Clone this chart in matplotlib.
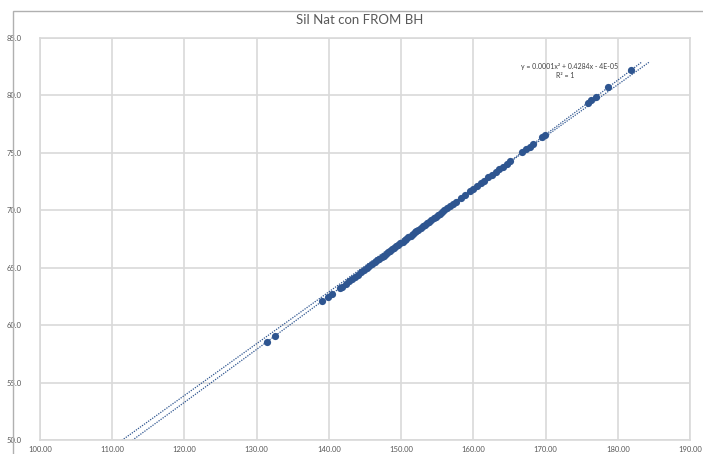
import numpy as np
import matplotlib
matplotlib.use("Agg")
import matplotlib.pyplot as plt
from matplotlib.patches import Rectangle

# Measured values
x_vals = [131.4, 132.6, 139.0, 139.9, 140.4, 141.5, 141.8, 142.3, 142.8, 143.2,
          143.6, 144.0, 144.5, 144.9, 145.3, 145.6, 146.0, 146.4, 146.7, 147.0,
          147.3, 147.6, 147.9, 148.2, 148.5, 148.8, 149.0, 149.3, 149.6, 149.9,
          150.2, 150.5, 150.7, 151.0, 151.3, 151.6, 151.9, 152.1, 152.4, 152.7,
          153.0, 153.3, 153.6, 153.9, 154.2, 154.5, 154.8, 155.1, 155.4, 155.7,
          156.0, 156.4, 156.8, 157.2, 157.6, 158.3, 158.9, 159.5, 160.0, 160.5,
          161.0, 161.5, 162.1, 162.6, 163.1, 163.6, 164.1, 164.6, 165.1, 166.8,
          167.3, 167.8, 168.2, 169.5, 169.9, 175.9, 176.3, 177.0, 178.7, 181.9]
y_vals = [58.54, 59.09, 62.06, 62.48, 62.71, 63.22, 63.36, 63.59, 63.83, 64.01,
          64.20, 64.39, 64.62, 64.80, 64.99, 65.13, 65.32, 65.50, 65.64, 65.78,
          65.92, 66.06, 66.20, 66.34, 66.48, 66.62, 66.72, 66.86, 67.00, 67.14,
          67.28, 67.42, 67.51, 67.65, 67.79, 67.93, 68.07, 68.17, 68.31, 68.45,
          68.59, 68.73, 68.87, 69.01, 69.15, 69.29, 69.43, 69.57, 69.71, 69.85,
          69.99, 70.18, 70.37, 70.56, 70.74, 71.07, 71.36, 71.64, 71.87, 72.11,
          72.34, 72.58, 72.86, 73.10, 73.33, 73.57, 73.80, 74.04, 74.27, 75.07,
          75.31, 75.55, 75.73, 76.35, 76.54, 79.38, 79.57, 79.90, 80.71, 82.23]

# Second (linear) trend: slope, intercept
line_coef = [0.451, -0.24]

x_ticks = [100, 110, 120, 130, 140, 150, 160, 170, 180, 190]
y_ticks = [50, 55, 60, 65, 70, 75, 80, 85]

title = "Sil Nat con FROM BH"
eq_text = "y = 0.0001x² + 0.4284x - 4E-05"
r2_text = "R² = 1"

blue = "#2E5590"
grid_c = "#D9D9D9"
text_c = "#595959"
font = ["Lato", "DejaVu Sans"]

fig = plt.figure(figsize=(7.03, 4.54), dpi=100)
fig.patch.set_facecolor("white")

# chart-area frame
fig.patches.append(Rectangle((13 / 703, -0.05), 1.0, 1 - 11 / 454 + 0.05,
                             transform=fig.transFigure, fill=False,
                             edgecolor="#B0B0B0", linewidth=1.0))

ax = fig.add_axes([40 / 703, 1 - 440 / 454, 650 / 703, 402 / 454])
ax.set_xlim(100, 190)
ax.set_ylim(50, 85)
ax.set_xticks(x_ticks)
ax.set_yticks(y_ticks)
ax.set_xticklabels([f"{v:.2f}" for v in x_ticks], fontsize=5.5, color=text_c, family=font)
ax.set_yticklabels([f"{v:.1f}" for v in y_ticks], fontsize=5.5, color=text_c, family=font)
ax.tick_params(length=0, pad=4)
for lab in ax.get_yticklabels():
    lab.set_horizontalalignment("left")
ax.tick_params(axis="y", pad=24)
ax.grid(True, color=grid_c, linewidth=1.2)
for s in ax.spines.values():
    s.set_color(grid_c)
    s.set_linewidth(1.2)
ax.set_axisbelow(True)

# quadratic trend of the data, plus the linear trend
xs = np.array(x_vals)
ys = np.array(y_vals)
quad = np.polyfit(xs, ys, 2)
xq = np.linspace(108, 183.3, 300)
xl = np.linspace(108, 184.3, 300)
ax.plot(xq, np.polyval(quad, xq), color=blue, linestyle=(0, (1, 1)), linewidth=0.9,
        zorder=2)
ax.plot(xl, np.polyval(line_coef, xl), color=blue, linestyle=(0, (1, 1)),
        linewidth=0.9, zorder=2)

ax.plot(xs, ys, "o", color=blue, markersize=5.2, markeredgewidth=0, zorder=3)

ax.text(570 / 703, 1 - 67 / 454, eq_text, transform=fig.transFigure, fontsize=5,
        color="#404040", ha="center", va="center", family=font)
ax.text(565 / 703, 1 - 76 / 454, r2_text, transform=fig.transFigure, fontsize=5,
        color="#404040", ha="center", va="center", family=font)

fig.text(360 / 703, 1 - 20 / 454, title, fontsize=9.5, color=text_c,
         ha="center", va="center", family=font)

fig.savefig("out.png", dpi=100)
